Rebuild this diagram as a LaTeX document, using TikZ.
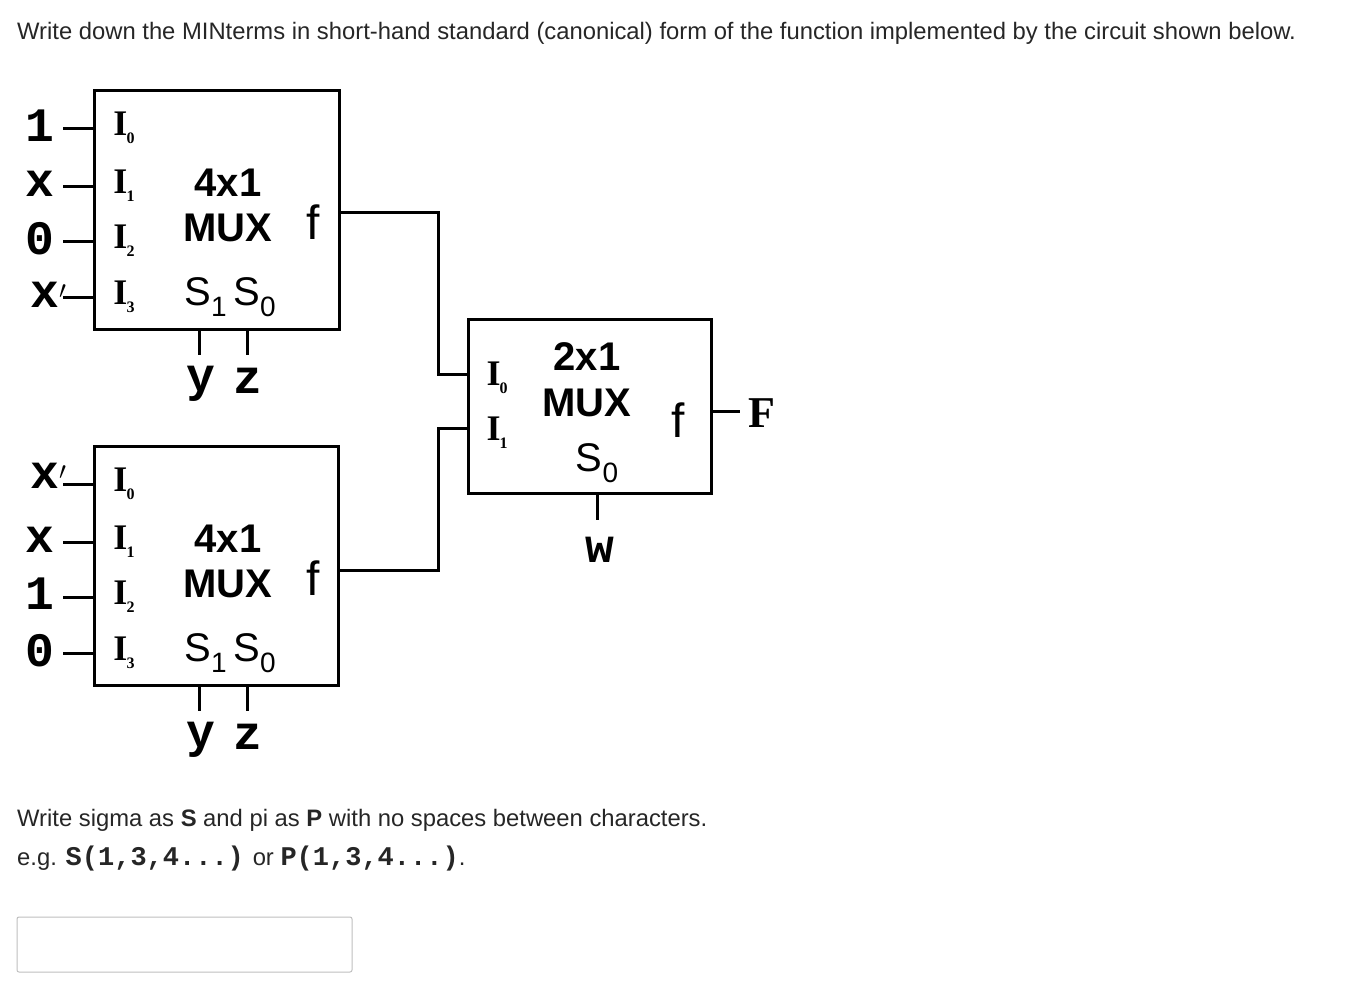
\documentclass[tikz,border=0pt]{standalone}
\usepackage{fontspec}
\setmainfont{Liberation Sans}
\newfontfamily\serf{Liberation Serif}
\newfontfamily\mono{Liberation Mono}
\begin{document}
\begin{tikzpicture}[x=1pt,y=-1pt,
  box/.style={draw,line width=3.2pt},
  wire/.style={line width=3pt},
  ilab/.style={font=\serf\bfseries\fontsize{36}{36}\selectfont},
  vlab/.style={font=\mono\bfseries\fontsize{48}{48}\selectfont},
  big/.style={font=\bfseries\fontsize{40}{40}\selectfont},
  sel/.style={font=\fontsize{40}{40}\selectfont},
  txt/.style={font=\fontsize{23.8}{26}\selectfont,text=black!85,anchor=west,inner sep=0}]
\useasboundingbox (0,0) rectangle (1346,1001);
\node[txt] (t1) at (17,33) {Write down the MINterms in short-hand standard (canonical) form of the function implemented by the circuit shown below.};
\node[box,minimum width=245,minimum height=239,anchor=north west,inner sep=0] (m1) at (93,89) {};
\node[box,minimum width=244,minimum height=239,anchor=north west,inner sep=0] (m2) at (93,445) {};
\node[box,minimum width=243,minimum height=174,anchor=north west,inner sep=0] (m3) at (467,318) {};
\foreach \m/\yy in {m1/89,m2/445}{
  \foreach \i/\d in {0/39,1/97,2/152,3/208}{
    \coordinate (\m i\i) at (93,\yy+\d);
    \coordinate (\m e\i) at (63,\yy+\d);
    \draw[wire] (\m e\i) -- (\m i\i);
    \node[ilab] at (124,\yy+\d) {I\raisebox{-0.5ex}{\fontsize{16}{16}\selectfont\kern-1pt\i}};
  }
  \node[big] at (228,\yy+94) {4x1};
  \node[big] at (228,\yy+139) {MUX};
  \node[font=\fontsize{48}{48}\selectfont] at (313,\yy+133) {f};
  \node[sel] at (230,\yy+208) {S\raisebox{-0.5ex}{\fontsize{28}{28}\selectfont 1}\,S\raisebox{-0.5ex}{\fontsize{28}{28}\selectfont 0}};
  \coordinate (\m s1) at (199,\yy+239); \coordinate (\m s1e) at (199,\yy+266);
  \coordinate (\m s0) at (247,\yy+239); \coordinate (\m s0e) at (247,\yy+266);
  \draw[wire] (\m s1) -- (\m s1e); \draw[wire] (\m s0) -- (\m s0e);
  \node[vlab] at (201,\yy+295) {y};
  \node[vlab] at (248,\yy+292) {z};
}
\node[vlab,anchor=east] at (58,126) {1};
\node[vlab,anchor=east] at (58,184) {x};
\node[vlab,anchor=east] at (58,239) {0};
\node[vlab,anchor=east] at (70,295) {x$'$};
\node[vlab,anchor=east] at (70,476) {x$'$};
\node[vlab,anchor=east] at (58,540) {x};
\node[vlab,anchor=east] at (58,594) {1};
\node[vlab,anchor=east] at (58,651) {0};
\node[ilab] at (497,378) {I\raisebox{-0.5ex}{\fontsize{16}{16}\selectfont\kern-1pt 0}};
\node[ilab] at (497,433) {I\raisebox{-0.5ex}{\fontsize{16}{16}\selectfont\kern-1pt 1}};
\node[big] at (587,357) {2x1};
\node[big] at (587,403) {MUX};
\node[font=\fontsize{48}{48}\selectfont] at (678,420) {f};
\node[sel] at (597,463) {S\raisebox{-0.5ex}{\fontsize{28}{28}\selectfont 0}};
\coordinate (m1o) at (338,212); \coordinate (m2o) at (337,570);
\coordinate (m3a) at (467,374); \coordinate (m3b) at (467,428);
\draw[wire] (m1o) -- (438,212) |- (m3a);
\draw[wire] (m2o) -- (438,570) |- (m3b);
\coordinate (m3o) at (710,411); \coordinate (Fe) at (740,411);
\draw[wire] (m3o) -- (Fe);
\node[font=\serf\bfseries\fontsize{44}{44}\selectfont] at (762,413) {F};
\coordinate (m3s) at (597,492); \coordinate (m3se) at (597,520);
\draw[wire] (m3s) -- (m3se);
\node[vlab] at (600,550) {w};
\node[txt] (t2) at (17,820) {Write sigma as \textbf{S} and pi as \textbf{P} with no spaces between characters.};
\node[txt] (t3) at (17,859) {e.g. {\mono\bfseries\fontsize{27}{27}\selectfont S(1,3,4...)} or {\mono\bfseries\fontsize{27}{27}\selectfont P(1,3,4...)}.};
\draw[black!25,line width=1pt,rounded corners=2pt] (17,917) rectangle (352,972);
\end{tikzpicture}
\end{document}
